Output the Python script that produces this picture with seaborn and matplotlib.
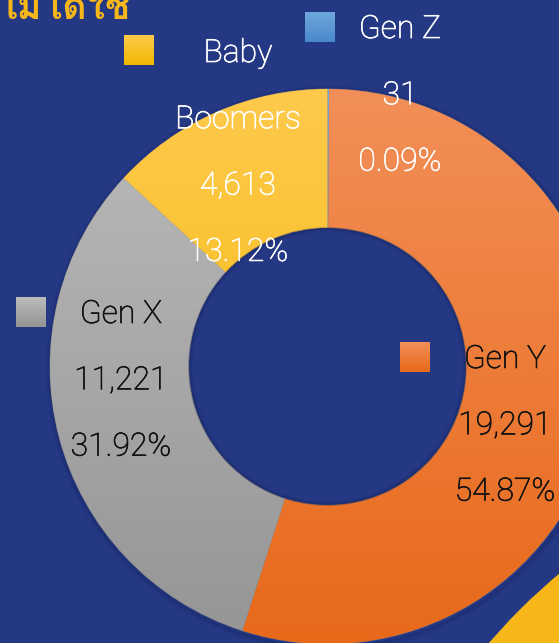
import numpy as np
import matplotlib
matplotlib.use("Agg")
import matplotlib.pyplot as plt
import seaborn as sns
from matplotlib import font_manager as fm
from matplotlib import ft2font
from matplotlib import patheffects as pe
from matplotlib.patches import Circle
from matplotlib.colors import LinearSegmentedColormap

# ---- data ----
categories = ["Gen Z", "Gen Y", "Gen X", "Baby Boomers"]
values = [31, 19291, 11221, 4613]
label_lines = [["Gen Z"], ["Gen Y"], ["Gen X"], ["Baby", "Boomers"]]
title_text = "ไม่ได้ใช้"

sns.set_theme(style="white")
plt.rcParams['font.family'] = ['Roboto', 'DejaVu Sans']

# find an installed family with Thai glyphs
thai_family = None
for f in fm.fontManager.ttflist:
    try:
        cm = ft2font.FT2Font(f.fname).get_charmap()
        if ord("ม") in cm and ord("ไ") in cm:
            thai_family = f.name
            break
    except Exception:
        pass
title_families = ([thai_family] if thai_family else []) + ['DejaVu Sans']

BG = "#253884"
W, H = 559, 643
fig = plt.figure(figsize=(W / 100, H / 100), dpi=100)
fig.patch.set_facecolor(BG)
ax = fig.add_axes([0, 0, 1, 1])
ax.set_facecolor(BG)

def py(y):  # pixel-from-top to data y
    return H - y

cx, cy_px, R = 327.5, 366.5, 277.5
cy = py(cy_px)

# decorative yellow shape bottom-right
ax.add_patch(Circle((944, py(1034)), 600, facecolor="#F7B718",
                    edgecolor="none", zorder=1))

# soft shadow around donut
for i, a in enumerate([0.16, 0.09, 0.04]):
    ax.add_patch(Circle((cx + 1, cy - 2), R + 1.2 + i * 1.6, facecolor="none",
                        edgecolor="#0a1540", lw=2, alpha=a, zorder=2))

grads = {
    "Gen Z": ("#6FA8DE", "#4A88CC"),
    "Gen Y": ("#F28F58", "#E8691A"),
    "Gen X": ("#BBBBBB", "#959595"),
    "Baby Boomers": ("#FFC94C", "#F1B800"),
}

wedges, _ = ax.pie(values, startangle=90, counterclock=False, radius=R,
                   center=(cx, cy), frame=True,
                   wedgeprops=dict(width=R * 0.5, edgecolor="#6b6f80", linewidth=0.6))

for w, cat in zip(wedges, categories):
    top, bot = grads[cat]
    cmap = LinearSegmentedColormap.from_list(cat, [bot, top])
    grad = np.linspace(0, 1, 256).reshape(-1, 1)
    w.set_facecolor(bot)
    w.set_zorder(3)
    im = ax.imshow(grad, cmap=cmap, origin="lower", aspect="auto",
                   extent=(cx - R, cx + R, cy - R, cy + R), zorder=3.5,
                   interpolation="bilinear")
    im.set_clip_path(w)

# inner hole shadow
for i, a in enumerate([0.22, 0.12, 0.05]):
    ax.add_patch(Circle((cx, cy), R * 0.5 - i * 1.5 - 0.5, facecolor="none",
                        edgecolor="#0a1540", lw=1.6, alpha=a, zorder=4))

# ---- labels ----
fs = 23
lab_pos = {
    "Gen Z": ((305, 12), 400, 38, "white"),
    "Gen Y": ((400, 342), 505, 368, "#111111"),
    "Gen X": ((16, 297), 121, 323, "#111111"),
    "Baby Boomers": ((124, 35), 238, 62, "white"),
}
total = sum(values)
for cat, val, lines in zip(categories, values, label_lines):
    (sx, sy), tx, base, col = lab_pos[cat]
    top, bot = grads[cat]
    cmap = LinearSegmentedColormap.from_list(cat + "sq", [bot, top])
    ax.imshow(np.linspace(0, 1, 64).reshape(-1, 1), cmap=cmap, origin="lower",
              aspect="auto", extent=(sx, sx + 30, py(sy + 30), py(sy)), zorder=6)
    texts = lines + [f"{val:,}", f"{val / total * 100:.2f}%"]
    for i, t in enumerate(texts):
        ax.text(tx, py(base + i * 66.3), t, ha="center", va="baseline",
                fontsize=fs, color=col, fontweight="light", zorder=7,
                path_effects=[pe.withStroke(linewidth=0.5, foreground=col)])

# title (cut off at top as in the source)
ax.text(-3, py(19), title_text, ha="left", va="baseline", fontsize=27,
        color="#F7B718", zorder=7, family=title_families, fontweight="bold")

ax.set_xlim(0, W)
ax.set_ylim(0, H)
ax.set_aspect("equal")
ax.axis("off")
fig.savefig("out.png", dpi=100, facecolor=BG)
